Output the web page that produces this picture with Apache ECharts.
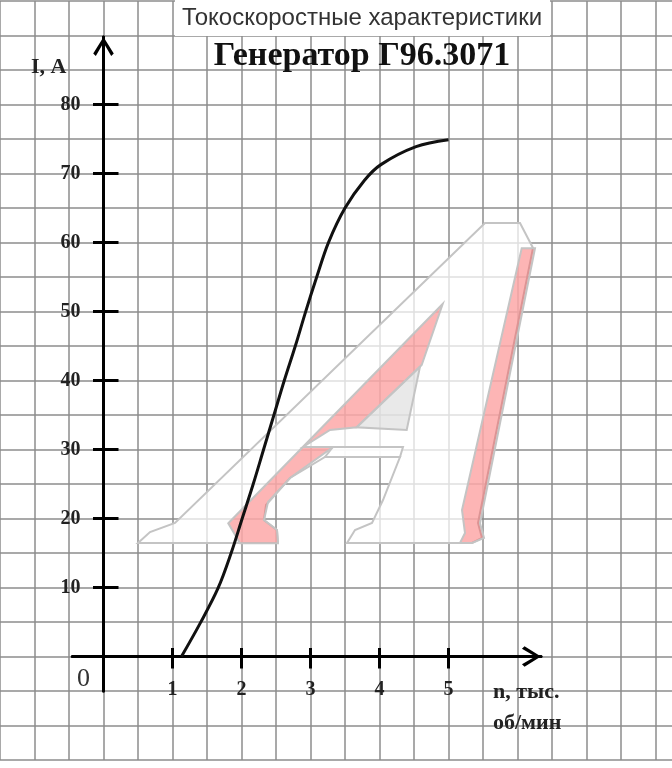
<!DOCTYPE html>
<html>
<head>
<meta charset="utf-8">
<script src="https://cdn.jsdelivr.net/npm/echarts@6/dist/echarts.min.js"></script>
<style>html,body{margin:0;padding:0;background:#fff}#c{width:672px;height:768px}</style>
</head>
<body>
<div id="c"></div>
<script>
// ---- data ----
const rpm = [1.13, 1.40, 1.66, 1.85, 2.01, 2.17, 2.32, 2.47, 2.62, 2.78, 2.93, 3.09, 3.26, 3.50, 3.78, 4.02, 4.53, 5.00];
const current = [0, 4.8, 9.9, 15, 20, 25, 30, 35, 40, 45, 50, 55, 60, 65, 69.0, 71.3, 73.9, 74.9];
const xTicks = [1, 2, 3, 4, 5];
const yTicks = [10, 20, 30, 40, 50, 60, 70, 80];
const titleText = 'Токоскоростные характеристики';
const subtitleText = 'Генератор Г96.3071';
const xName = 'n, тыс.\nоб/мин';
const yName = 'I, A';
const originLabel = '0';

// ---- chart ----
const chart = echarts.init(document.getElementById('c'), null, { renderer: 'canvas' });
const SERIF = '"Liberation Serif","Times New Roman",serif';
const SANS = '"Liberation Sans",Arial,sans-serif';
const arrowPath = 'path://M10,0 L20,16 L17.5,18.5 L10,5.5 L2.5,18.5 L0,16 Z';
const axisColor = '#000';
const gridColor = '#8c8c8c';

const xMin = -0.45, xMax = 6.34, yMin = -5, yMax = 89.8;

function dataAxisCommon(extra) {
  return Object.assign({
    gridIndex: 1,
    type: 'value',
    splitLine: { show: false }
  }, extra);
}

const option = {
  backgroundColor: '#fff',
  animation: false,
  title: [
    {
      text: titleText, left: 362, top: 6, textAlign: 'center', padding: 0,
      textStyle: { fontFamily: SANS, fontWeight: 'normal', fontSize: 24, color: '#333' }
    },
    {
      text: subtitleText, left: 362, top: 39, textAlign: 'center', padding: 0,
      textStyle: { fontFamily: SERIF, fontWeight: 'bold', fontSize: 34, color: '#111' }
    }
  ],
  grid: [
    { left: 0, right: 0, top: 1, bottom: 8, containLabel: false, outerBoundsMode: 'none' },
    { left: 72.45, right: 131.04, top: 37, bottom: 77, containLabel: false, outerBoundsMode: 'none' }
  ],
  xAxis: [
    {
      gridIndex: 0, type: 'value', min: -1.5, max: -1.5 + 672 / 69, interval: 0.5,
      axisLine: { show: false }, axisTick: { show: false }, axisLabel: { show: false },
      splitLine: { show: true, showMaxLine: false, lineStyle: { color: gridColor, width: 1.5 } }
    },
    dataAxisCommon({
      min: xMin, max: xMax, position: 'bottom',
      axisLine: {
        show: true, onZero: true, lineStyle: { color: axisColor, width: 3 },
        symbol: ['none', arrowPath], symbolSize: [22, 19], symbolOffset: [0, -9.5]
      },
      axisTick: { show: true, customValues: xTicks, inside: false, length: 12, lineStyle: { color: axisColor, width: 3 } },
      axisLabel: {
        show: true, customValues: xTicks, margin: -11.5,
        fontFamily: SERIF, fontWeight: 'bold', fontSize: 20, color: '#222'
      },
      name: xName, nameLocation: 'end', nameGap: -48,
      nameTextStyle: {
        fontFamily: SERIF, fontWeight: 'bold', fontSize: 22, color: '#222',
        align: 'left', verticalAlign: 'top', lineHeight: 31, padding: [20, 0, 0, 0]
      }
    }),
    dataAxisCommon({
      min: xMin, max: xMax, position: 'bottom',
      axisLine: { show: true, onZero: true, lineStyle: { color: axisColor, width: 3 } },
      axisTick: { show: true, customValues: xTicks, inside: true, length: 8.5, lineStyle: { color: axisColor, width: 3 } },
      axisLabel: { show: false }
    })
  ],
  yAxis: [
    {
      gridIndex: 0, type: 'value', min: -15, max: 95, interval: 5,
      axisLine: { show: false }, axisTick: { show: false }, axisLabel: { show: false },
      splitLine: { show: true, lineStyle: { color: gridColor, width: 1.5 } }
    },
    dataAxisCommon({
      min: yMin, max: yMax, position: 'left',
      axisLine: {
        show: true, onZero: true, lineStyle: { color: axisColor, width: 3 },
        symbol: ['none', arrowPath], symbolSize: [22, 19], symbolOffset: [0, -9.5]
      },
      axisTick: { show: true, customValues: yTicks, inside: false, length: 10.5, lineStyle: { color: axisColor, width: 3 } },
      axisLabel: {
        show: true, customValues: yTicks, margin: -8,
        fontFamily: SERIF, fontWeight: 'bold', fontSize: 20, color: '#222'
      },
      name: yName, nameLocation: 'end', nameGap: -19,
      nameTextStyle: {
        fontFamily: SERIF, fontWeight: 'bold', fontSize: 22, color: '#222',
        align: 'right', verticalAlign: 'top', lineHeight: 22, padding: [0, 37, 0, 0]
      }
    }),
    dataAxisCommon({
      min: yMin, max: yMax, position: 'left',
      axisLine: { show: true, onZero: true, lineStyle: { color: axisColor, width: 3 } },
      axisTick: { show: true, customValues: yTicks, inside: true, length: 15, lineStyle: { color: axisColor, width: 3 } },
      axisLabel: { show: false }
    })
  ],
  graphic: [
    // white box behind the upper title
    { type: 'rect', z: 5, silent: true, shape: { x: 175, y: 0, width: 375, height: 36 }, style: { fill: '#fff' } },
    // watermark (stylised "A")
    {
      type: 'polygon', z: 1, silent: true,
      shape: { points: [[138,543],[150,532],[175,523],[485,223],[520,223],[533,248],[478,523],[482,538],[472,543],[347,543],[355,530],[372,523],[383,500],[400,457],[325,457],[290,478],[266,505],[264,520],[277,530],[278,543]] },
      style: { fill: 'rgba(255,255,255,0.72)', stroke: '#c4c4c4', lineWidth: 2 }
    },
    {
      type: 'polygon', z: 1, silent: true,
      shape: { points: [[521.7,248.3],[535,248.3],[480,523.3],[484,538],[472,543],[460,543],[465,533],[462,510]] },
      style: { fill: 'rgba(250,90,90,0.45)', stroke: '#c4c4c4', lineWidth: 2 }
    },
    {
      type: 'polygon', z: 1, silent: true,
      shape: { points: [[228.3,523.3],[442.7,304],[421.7,365],[356.7,427.3],[330,430],[303,447],[333,447],[290,478],[268,502],[264,520],[277,530],[278,543.3],[240,543.3]] },
      style: { fill: 'rgba(250,90,90,0.45)', stroke: '#c4c4c4', lineWidth: 2 }
    },
    {
      type: 'polygon', z: 1, silent: true,
      shape: { points: [[356.7,427.3],[420,366.7],[406.7,430]] },
      style: { fill: 'rgba(215,215,215,0.55)', stroke: '#c4c4c4', lineWidth: 2 }
    },
    {
      type: 'polygon', z: 1, silent: true,
      shape: { points: [[333,447],[403,447],[400,457],[325,457]] },
      style: { fill: 'rgba(255,255,255,0.8)', stroke: '#c4c4c4', lineWidth: 2 }
    },
    // origin label
    {
      type: 'text', z: 5, silent: true, x: 83.5, y: 679,
      style: { text: originLabel, font: '26px ' + SERIF, fill: '#333', textAlign: 'center', textVerticalAlign: 'middle' }
    }
  ],
  series: [
    {
      type: 'line', xAxisIndex: 1, yAxisIndex: 1, z: 5,
      data: rpm.map((x, i) => [x, current[i]]),
      smooth: 0.35, showSymbol: false, symbol: 'none',
      lineStyle: { color: '#111', width: 3 }
    }
  ]
};
chart.setOption(option);
</script>
</body>
</html>
